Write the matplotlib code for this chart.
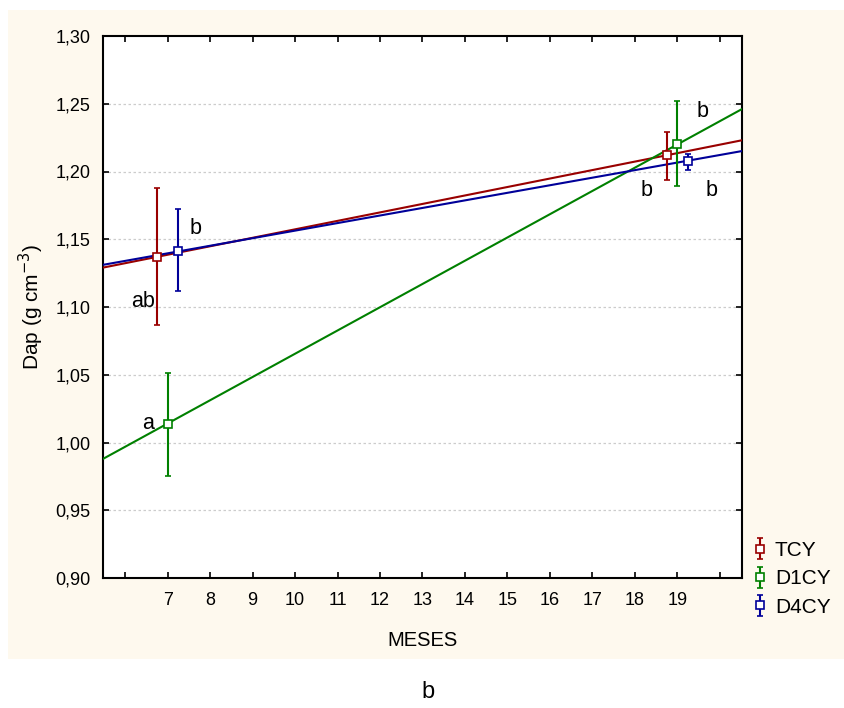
import numpy as np
import matplotlib
matplotlib.use("Agg")
import matplotlib.pyplot as plt
from matplotlib.patches import Rectangle
from matplotlib.ticker import FuncFormatter, FixedLocator

plt.rcParams['font.family'] = ['Liberation Sans', 'DejaVu Sans']

# Data
series = ["TCY", "D1CY", "D4CY"]
colors = ["#990000", "#008000", "#000099"]
x_vals = {"TCY": [6.75, 18.75], "D1CY": [7.0, 19.0], "D4CY": [7.25, 19.25]}
y_mean = {"TCY": [1.137, 1.212], "D1CY": [1.014, 1.220], "D4CY": [1.141, 1.208]}
y_low = {"TCY": [1.087, 1.194], "D1CY": [0.975, 1.189], "D4CY": [1.112, 1.201]}
y_high = {"TCY": [1.188, 1.229], "D1CY": [1.051, 1.252], "D4CY": [1.172, 1.213]}
letters = ["ab", "b", "a", "b", "b", "b"]
letter_x = [6.43, 7.65, 6.55, 19.58, 18.28, 19.8]
letter_y = [1.104, 1.158, 1.014, 1.244, 1.186, 1.186]
xticks = list(range(6, 21))
xlabels = [str(v) if 7 <= v <= 19 else "" for v in xticks]
yticks = [0.90, 0.95, 1.00, 1.05, 1.10, 1.15, 1.20, 1.25, 1.30]

fig = plt.figure(figsize=(8.44, 7.08), dpi=100)
fig.patch.set_facecolor("white")
bg = Rectangle((8 / 844, 1 - 659 / 708), 836 / 844, 649 / 708,
               transform=fig.transFigure, facecolor="#fef9ee", edgecolor="none", zorder=-10)
fig.patches.append(bg)

ax = fig.add_axes([103 / 844, 1 - 578 / 708, 639 / 844, 542 / 708])
ax.set_facecolor("white")
xlim = (5.48, 20.52)
ax.set_xlim(*xlim)
ax.set_ylim(0.90, 1.30)

for yv in yticks[1:-1]:
    ax.axhline(yv, color="#cccccc", lw=0.9, ls=(0, (2, 2)), zorder=1)

handles = []
for s, c in zip(series, colors):
    xs = np.array(x_vals[s])
    ys = np.array(y_mean[s])
    coef = np.polyfit(xs, ys, 1)
    xl = np.array(xlim)
    ax.plot(xl, np.polyval(coef, xl), color=c, lw=1.5, zorder=3)
    lo = ys - np.array(y_low[s])
    hi = np.array(y_high[s]) - ys
    eb = ax.errorbar(xs, ys, yerr=[lo, hi], fmt="s", ms=6, mfc="white", mec=c, mew=1.2,
                     ecolor=c, elinewidth=1.5, capsize=2, capthick=1.5, zorder=4)
    handles.append(eb)

for t, xv, yv in zip(letters, letter_x, letter_y):
    ax.text(xv, yv, t, fontsize=15.5, ha="center", va="center", zorder=6)

ax.xaxis.set_major_locator(FixedLocator(xticks))
ax.set_xticklabels(xlabels)
ax.set_yticks(yticks)
ax.yaxis.set_major_formatter(FuncFormatter(lambda v, p: f"{v:.2f}".replace(".", ",")))
ax.tick_params(direction="in", top=True, right=True, length=4, width=1.2,
               labelsize=13)
ax.tick_params(axis="x", pad=10)
ax.tick_params(axis="y", pad=9)
for sp in ax.spines.values():
    sp.set_linewidth(1.5)

ax.set_xlabel("MESES", fontsize=14.5, labelpad=16)
ax.set_ylabel("Dap (g cm$^{-3}$)", fontsize=15, labelpad=7)

fig.legend(handles, series, loc="upper left", bbox_to_anchor=(752 / 844, 1 - 541 / 708),
           frameon=False, fontsize=15, handlelength=0.8, handletextpad=0.3,
           labelspacing=0.45, borderaxespad=0, borderpad=0)

fig.text(428 / 844, 1 - 692 / 708, "b", fontsize=17, ha="center", va="center")

fig.savefig("out.png", dpi=100)
